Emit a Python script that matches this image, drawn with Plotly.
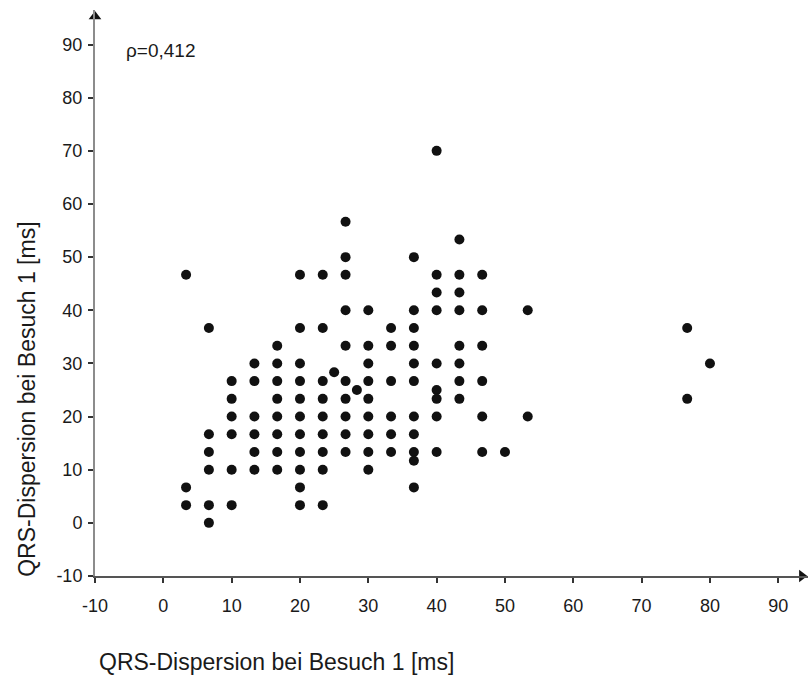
import plotly.graph_objects as go

# QRS dispersion pairs (ms), grouped by x value
x_groups = {
    3.33: [46.67, 6.67, 3.33],
    6.67: [36.67, 16.67, 13.33, 10, 3.33, 0],
    10.0: [26.67, 23.33, 20, 16.67, 10, 3.33],
    13.33: [30, 26.67, 20, 16.67, 13.33, 10],
    16.67: [33.33, 30, 26.67, 23.33, 20, 16.67, 13.33, 10],
    20.0: [46.67, 36.67, 30, 26.67, 23.33, 20, 16.67, 13.33, 10, 6.67, 3.33],
    23.33: [46.67, 36.67, 26.67, 23.33, 20, 16.67, 13.33, 10, 3.33],
    25.0: [28.33],
    26.67: [56.67, 50, 46.67, 40, 33.33, 26.67, 23.33, 20, 16.67, 13.33],
    28.33: [25],
    30.0: [40, 33.33, 30, 26.67, 23.33, 20, 16.67, 13.33, 10],
    33.33: [36.67, 33.33, 26.67, 20, 16.67, 13.33],
    36.67: [50, 40, 36.67, 33.33, 30, 26.67, 20, 16.67, 13.33, 11.67, 6.67],
    40.0: [70, 46.67, 43.33, 40, 30, 25, 23.33, 20, 13.33],
    43.33: [53.33, 46.67, 43.33, 40, 33.33, 30, 26.67, 23.33],
    46.67: [46.67, 40, 33.33, 26.67, 20, 13.33],
    50.0: [13.33],
    53.33: [40, 20],
    76.67: [36.67, 23.33],
    80.0: [30],
}

visit_x = [x for x, ys in x_groups.items() for _ in ys]
visit_y = [y for ys in x_groups.values() for y in ys]

rho_label = "ρ=0,412"
axis_title = "QRS-Dispersion bei Besuch 1 [ms]"
tick_vals = list(range(-10, 100, 10))
tick_text = [str(v) for v in tick_vals]  # plain hyphen for the minus sign

x_range = [-10, 94.35]
y_range = [-10, 96.5]

FONT = "Liberation Sans, Arial, sans-serif"

fig = go.Figure()

fig.add_trace(go.Scatter(
    x=visit_x, y=visit_y, mode="markers",
    marker=dict(size=10, color="#111111", line=dict(width=0)),
    showlegend=False, hoverinfo="x+y",
))

# arrowheads at the ends of both axes
fig.add_trace(go.Scatter(
    x=[x_range[0]], y=[y_range[1] - 1.2], mode="markers",
    marker=dict(symbol="triangle-up", size=11, color="#111111"),
    showlegend=False, hoverinfo="skip", cliponaxis=False,
))
fig.add_trace(go.Scatter(
    x=[x_range[1] - 0.9], y=[y_range[0]], mode="markers",
    marker=dict(symbol="triangle-right", size=11, color="#111111"),
    showlegend=False, hoverinfo="skip", cliponaxis=False,
))

axis_common = dict(
    tickmode="array", tickvals=tick_vals, ticktext=tick_text,
    ticks="outside", ticklen=5, tickwidth=1.5, tickcolor="#333333",
    tickfont=dict(family=FONT, size=18, color="#1a1a1a"),
    showgrid=False, zeroline=False, showline=True, linewidth=2,
)

fig.update_xaxes(range=x_range, linecolor="#555555", ticklabelstandoff=7, **axis_common)
fig.update_yaxes(range=y_range, linecolor="#8c8c8c", ticklabelstandoff=2, **axis_common)

fig.add_annotation(
    x=-5.7, y=88.9, xref="x", yref="y", text=rho_label, showarrow=False,
    xanchor="left", yanchor="middle",
    font=dict(family=FONT, size=19, color="#1a1a1a"),
)
fig.add_annotation(
    x=0.2545, y=-0.152, xref="paper", yref="paper", text=axis_title,
    showarrow=False, xanchor="center", yanchor="middle",
    font=dict(family=FONT, size=23, color="#1a1a1a"),
)
fig.add_annotation(
    x=-0.0954, y=0.313, xref="paper", yref="paper", text=axis_title,
    showarrow=False, xanchor="center", yanchor="middle", textangle=-90,
    font=dict(family=FONT, size=23, color="#1a1a1a"),
)

fig.update_layout(
    width=809, height=677,
    margin=dict(l=95, r=1, t=10, b=101),
    plot_bgcolor="white", paper_bgcolor="white",
    font=dict(family=FONT),
)

fig.write_html("out.html")
